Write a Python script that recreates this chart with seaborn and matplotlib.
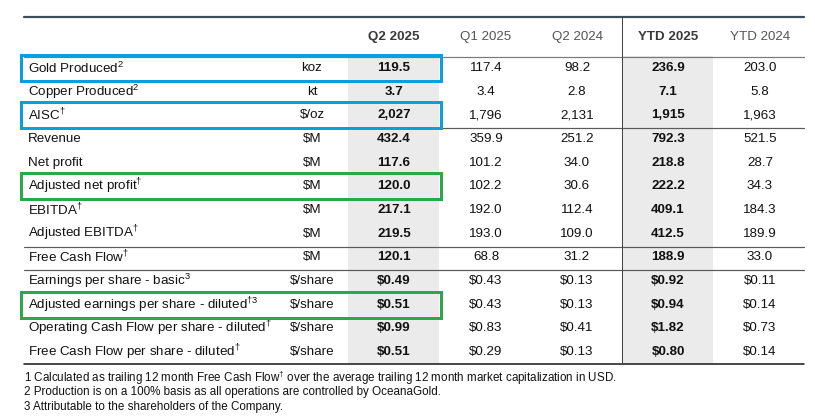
import matplotlib
matplotlib.use("Agg")
import matplotlib.pyplot as plt
from matplotlib.patches import Rectangle
import seaborn as sns

sns.set_theme(style="white")
plt.rcParams['font.family'] = ['Liberation Sans', 'DejaVu Sans']
plt.rcParams['mathtext.fontset'] = 'custom'
plt.rcParams['mathtext.rm'] = 'Liberation Sans'
plt.rcParams['mathtext.it'] = 'Liberation Sans:italic'
plt.rcParams['mathtext.bf'] = 'Liberation Sans:bold'

# ---- data ----
periods = ["Q2 2025", "Q1 2025", "Q2 2024", "YTD 2025", "YTD 2024"]
bold_periods = ["Q2 2025", "YTD 2025"]

metrics = ["Gold Produced$^{2}$", "Copper Produced$^{2}$", "AISC$^{†}$", "Revenue", "Net profit",
           "Adjusted net profit$^{†}$", "EBITDA$^{†}$", "Adjusted EBITDA$^{†}$", "Free Cash Flow$^{†}$",
           "Earnings per share - basic$^{3}$", "Adjusted earnings per share - diluted$^{†3}$",
           "Operating Cash Flow per share - diluted$^{†}$", "Free Cash Flow per share - diluted$^{†}$"]
units = ["koz", "kt", "$/oz", "$M", "$M", "$M", "$M", "$M", "$M",
         "$/share", "$/share", "$/share", "$/share"]

q2_2025 = ["119.5", "3.7", "2,027", "432.4", "117.6", "120.0", "217.1", "219.5", "120.1",
           "$0.49", "$0.51", "$0.99", "$0.51"]
q1_2025 = ["117.4", "3.4", "1,796", "359.9", "101.2", "102.2", "192.0", "193.0", "68.8",
           "$0.43", "$0.43", "$0.83", "$0.29"]
q2_2024 = ["98.2", "2.8", "2,131", "251.2", "34.0", "30.6", "112.4", "109.0", "31.2",
           "$0.13", "$0.13", "$0.41", "$0.13"]
ytd_2025 = ["236.9", "7.1", "1,915", "792.3", "218.8", "222.2", "409.1", "412.5", "188.9",
            "$0.92", "$0.94", "$1.82", "$0.80"]
ytd_2024 = ["203.0", "5.8", "1,963", "521.5", "28.7", "34.3", "184.3", "189.9", "33.0",
            "$0.11", "$0.14", "$0.73", "$0.14"]
values = [q2_2025, q1_2025, q2_2024, ytd_2025, ytd_2024]

blue_rows = ["Gold Produced$^{2}$", "AISC$^{†}$"]
green_rows = ["Adjusted net profit$^{†}$", "Adjusted earnings per share - diluted$^{†3}$"]

footnotes = ["1 Calculated as trailing 12 month Free Cash Flow$^{†}$ over the average trailing 12 month market capitalization in USD.",
             "2 Production is on a 100% basis as all operations are controlled by OceanaGold.",
             "3 Attributable to the shareholders of the Company."]

# ---- layout (pixel coords) ----
W, H = 815, 416
fig = plt.figure(figsize=(W / 100, H / 100), dpi=100)
ax = fig.add_axes([0, 0, 1, 1])
ax.set_xlim(0, W)
ax.set_ylim(H, 0)
ax.axis("off")

left, right = 24, 804
label_x, unit_x = 28, 312
col_x = [394, 486, 577, 668, 760]
shade_w = 91
header_y = 37
row_y0, row_h = 68, 23.67
px = 0.72  # points per pixel
fs = 9.6

def esc(s):
    return s.replace("$", r"\$")

# shaded columns
for p, cx in zip(periods, col_x):
    if p in bold_periods:
        x0 = 348 if p == "Q2 2025" else 622
        ax.add_patch(Rectangle((x0, 56), shade_w, 364 - 56, facecolor="#ebebeb", edgecolor="none", zorder=0))

# rule lines
ax.plot([left, right], [17, 17], color="#3d4e5a", lw=2.2 * px)
ax.plot([left, right], [56.5, 56.5], color="#7a7a7a", lw=1.2 * px)
for yy in [127.5, 246.5, 269.5]:
    ax.plot([left, right], [yy, yy], color="#5a5a5a", lw=1.2 * px)
ax.plot([left, right], [364, 364], color="#222222", lw=1.6 * px)
ax.plot([622, 622], [17, 364], color="#444444", lw=1.0 * px)

# header
for p, cx in zip(periods, col_x):
    bold = p in bold_periods
    ax.text(cx, header_y, p, ha="center", va="center", fontsize=fs,
            fontweight="bold" if bold else "normal", color="#3a3a3a" if bold else "#555555")

# rows
for i, (m, u) in enumerate(zip(metrics, units)):
    y = row_y0 + i * row_h
    ax.text(label_x, y, m, ha="left", va="center", fontsize=fs, color="#111111")
    ax.text(unit_x, y, esc(u), ha="center", va="center", fontsize=fs, color="#111111")
    for p, cx, col in zip(periods, col_x, values):
        bold = p in bold_periods
        ax.text(cx, y, esc(col[i]), ha="center", va="center", fontsize=fs,
                fontweight="bold" if bold else "normal", color="#111111")

# highlight boxes
for m in blue_rows + green_rows:
    i = metrics.index(m)
    y = row_y0 + i * row_h
    color = "#079fdc" if m in blue_rows else "#2aa84a"
    ax.add_patch(Rectangle((21, y - 13), 420, 26, fill=False, edgecolor=color, lw=3 * px, zorder=5))

# footnotes
for j, f in enumerate(footnotes):
    ax.text(24, 378 + j * 14.3, f, ha="left", va="center", fontsize=8.4, color="#111111")

fig.savefig("out.png", dpi=100)
